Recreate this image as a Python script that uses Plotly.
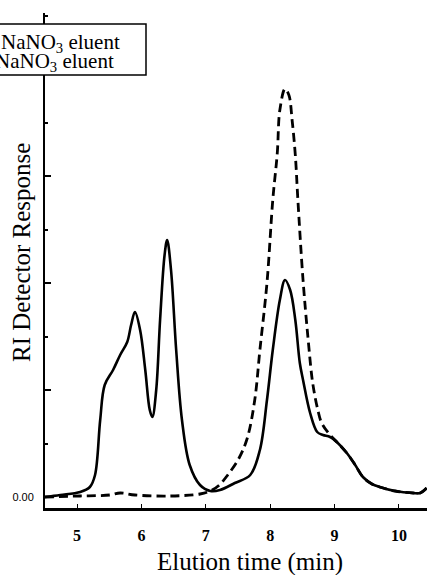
import plotly.graph_objects as go

# Solid trace (elution time in min, RI response, arbitrary units)
solid_x = [4.50, 4.74, 5.05, 5.20, 5.28, 5.36, 5.43, 5.56, 5.67, 5.78, 5.84, 5.90, 5.98, 6.06, 6.13, 6.17,
           6.23, 6.29, 6.36, 6.40, 6.46, 6.54, 6.63, 6.75, 6.91, 7.07, 7.22, 7.45, 7.69, 7.84, 7.95, 8.04,
           8.15, 8.23, 8.31, 8.39, 8.46, 8.51, 8.62, 8.73, 8.82, 8.93, 9.05, 9.19, 9.32, 9.44, 9.58, 9.70,
           9.94, 10.22, 10.33, 10.43]
solid_y = [0.00, 0.02, 0.05, 0.10, 0.22, 0.77, 1.12, 1.27, 1.42, 1.55, 1.72, 1.85, 1.67, 1.27, 0.87, 0.80,
           1.07, 1.77, 2.42, 2.57, 2.27, 1.47, 0.77, 0.32, 0.12, 0.06, 0.07, 0.14, 0.22, 0.47, 0.97, 1.47,
           1.97, 2.17, 2.07, 1.77, 1.34, 1.17, 0.84, 0.65, 0.62, 0.60, 0.54, 0.44, 0.32, 0.20, 0.13, 0.10,
           0.06, 0.04, 0.04, 0.09]

# Dashed trace
dash_x = [4.50, 5.05, 5.51, 5.67, 5.90, 6.44, 6.91, 7.07, 7.21, 7.34, 7.50, 7.64, 7.76, 7.84, 7.95, 8.04,
          8.11, 8.15, 8.23, 8.29, 8.34, 8.39, 8.43, 8.51, 8.59, 8.66, 8.74, 8.80, 8.93, 9.05, 9.19, 9.32,
          9.44, 9.58, 9.70, 9.94, 10.22, 10.33, 10.43]
dash_y = [0.00, 0.01, 0.02, 0.04, 0.02, 0.01, 0.03, 0.06, 0.12, 0.22, 0.37, 0.58, 0.97, 1.47, 2.14, 2.97,
          3.44, 3.87, 4.08, 4.02, 3.77, 3.42, 2.97, 2.17, 1.57, 1.14, 0.87, 0.74, 0.62, 0.54, 0.44, 0.32,
          0.20, 0.13, 0.10, 0.06, 0.04, 0.04, 0.09]

x_tickvals = [5, 6, 7, 8, 9, 10]
x_ticktext = ["5", "6", "7", "8", "9", "10"]
y_label_vals = [0]
y_label_text = ["0.00"]
y_major_vals = [1.07, 2.14, 3.21, 4.28]
legend_labels = ["NaNO<sub>3</sub> eluent", "NaNO<sub>3</sub> eluent"]
x_title = "Elution time (min)"
y_title = "RI Detector Response"

W, H = 427, 575
L, R, T, B = 45, 0, 13, 67
pw = W - L - R
ph = H - T - B
Y_RANGE = [-0.11, 4.84]


def px_x(p):
    return (p - L) / pw


def px_y(p):
    return (H - B - p) / ph


fig = go.Figure()
fig.add_trace(go.Scatter(x=dash_x, y=dash_y, mode="lines", line=dict(color="black", width=2.8, dash="9px,5px"),
                         line_shape="spline", showlegend=False, hoverinfo="skip"))
fig.add_trace(go.Scatter(x=solid_x, y=solid_y, mode="lines", line=dict(color="black", width=2.6),
                         line_shape="spline", showlegend=False, hoverinfo="skip"))

fig.update_layout(
    width=W, height=H,
    margin=dict(l=L, r=R, t=T, b=B, pad=0, autoexpand=False),
    paper_bgcolor="white", plot_bgcolor="white",
    xaxis=dict(range=[4.503, 10.435], tickvals=x_tickvals, ticktext=x_ticktext, showgrid=False, zeroline=False,
               showline=True, linecolor="black", linewidth=3, ticks="inside", ticklen=4, tickwidth=1.2,
               tickcolor="black", ticklabelstandoff=11, automargin=False,
               tickfont=dict(family="Liberation Serif", size=16, color="black", weight="bold")),
    yaxis=dict(range=Y_RANGE, tickvals=y_label_vals, ticktext=y_label_text, showgrid=False, zeroline=False,
               showline=True, linecolor="black", linewidth=2, ticks="inside", ticklen=6, tickwidth=1.5,
               tickcolor="black", ticklabelstandoff=7, automargin=False,
               tickfont=dict(family="Liberation Sans", size=11, color="black"),
               minor=dict(ticks="inside", ticklen=3, tickcolor="black", dtick=0.535, tick0=0)),
    yaxis2=dict(range=Y_RANGE, overlaying="y", side="left", tickvals=y_major_vals, showticklabels=False,
                showgrid=False, zeroline=False, showline=False, ticks="inside", ticklen=6, tickwidth=1.5,
                tickcolor="black", automargin=False),
    showlegend=False,
)
fig.add_trace(go.Scatter(x=[None], y=[None], yaxis="y2", showlegend=False, hoverinfo="skip"))

# legend box (cropped at left edge as in the reference)
fig.add_shape(type="rect", xref="paper", yref="paper", x0=px_x(-6), x1=px_x(146), y0=px_y(75), y1=px_y(24),
              line=dict(color="black", width=1.5), fillcolor="white", layer="above")
fig.add_annotation(text=legend_labels[0], xref="paper", yref="paper", x=px_x(-1), y=px_y(43), xanchor="left",
                   yanchor="middle", showarrow=False,
                   font=dict(family="Liberation Serif", size=21, color="black"))
fig.add_annotation(text=legend_labels[1], xref="paper", yref="paper", x=px_x(-7), y=px_y(62), xanchor="left",
                   yanchor="middle", showarrow=False,
                   font=dict(family="Liberation Serif", size=21, color="black"))

fig.add_annotation(text=x_title, xref="paper", yref="paper", x=px_x(250), y=px_y(562), xanchor="center",
                   yanchor="middle", showarrow=False,
                   font=dict(family="Liberation Serif", size=25, color="black"))
fig.add_annotation(text=y_title, xref="paper", yref="paper", x=px_x(21), y=px_y(253), xanchor="center",
                   yanchor="middle", textangle=-90, showarrow=False,
                   font=dict(family="Liberation Serif", size=25, color="black"))

fig.write_html("out.html", config={"displayModeBar": False},
               post_script="document.body.style.margin='0px';document.body.style.overflow='hidden';")
